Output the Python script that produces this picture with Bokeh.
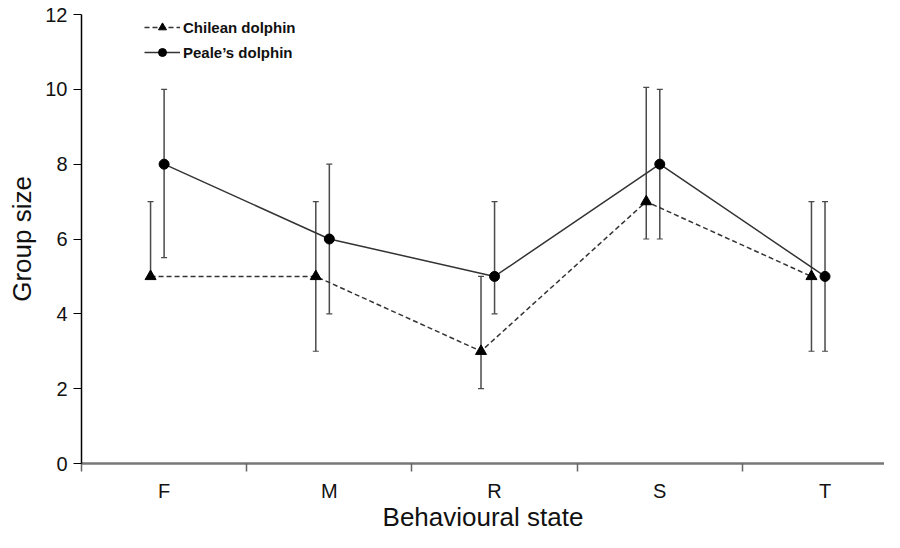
from bokeh.plotting import figure
from bokeh.models import (Range1d, FixedTicker, Whisker, TeeHead, ColumnDataSource,
                          Legend, LegendItem)
from bokeh.embed import file_html
from bokeh.resources import INLINE

# ---- data ----
states = ["F", "M", "R", "S", "T"]
chilean_mean = [5, 5, 3, 7, 5]
chilean_upper = [7, 7, 5, 10.05, 7]
chilean_lower = [5, 3, 2, 6, 3]
peale_mean = [8, 6, 5, 8, 5]
peale_upper = [10, 8, 7, 10, 7]
peale_lower = [5.5, 4, 4, 6, 3]
y_ticks = [0, 2, 4, 6, 8, 10, 12]

chilean_offset = -0.082
peale_offset = 0.0

centers = [i + 0.5 for i in range(len(states))]
boundaries = [float(i) for i in range(len(states))]

src_c = ColumnDataSource(dict(x=[c + chilean_offset for c in centers], y=chilean_mean,
                              upper=chilean_upper, lower=chilean_lower))
src_p = ColumnDataSource(dict(x=[c + peale_offset for c in centers], y=peale_mean,
                              upper=peale_upper, lower=peale_lower))

FONT = "Liberation Sans"
FRAME_W, FRAME_H = 803, 449

p = figure(frame_width=FRAME_W, frame_height=FRAME_H, output_backend="svg",
           toolbar_location=None,
           x_range=Range1d(0, 4.86), y_range=Range1d(0, 12),
           min_border_left=81, min_border_right=0, min_border_top=14, min_border_bottom=68)
p.outline_line_color = None
p.xgrid.visible = False
p.ygrid.visible = False

# error bars
for src in (src_c, src_p):
    w = Whisker(source=src, base="x", upper="upper", lower="lower", dimension="height",
                line_color="#4a4a4a", line_width=1.5, level="underlay",
                upper_head=TeeHead(size=6, line_color="#4a4a4a", line_width=1.2),
                lower_head=TeeHead(size=6, line_color="#4a4a4a", line_width=1.2))
    p.add_layout(w)

cl_line = p.line("x", "y", source=src_c, line_color="#333333", line_width=1.5, line_dash="5 3")
cl_pts = p.scatter("x", "y", source=src_c, marker="triangle", size=11,
                   fill_color="black", line_color="black")
pe_line = p.line("x", "y", source=src_p, line_color="#333333", line_width=1.5)
pe_pts = p.scatter("x", "y", source=src_p, marker="circle", size=10,
                   fill_color="black", line_color="black")

# x axis: ticks at category boundaries, labels at centers
xa = p.xaxis[0]
xa.ticker = FixedTicker(ticks=centers, minor_ticks=boundaries)
xa.major_label_overrides = {c: s for c, s in zip(centers, states)}
xa.major_tick_out = 0
xa.major_tick_in = 0
xa.minor_tick_out = 8
xa.minor_tick_in = 0
xa.minor_tick_line_color = "#666666"
xa.minor_tick_line_width = 1.5
xa.axis_line_color = "#777777"
xa.axis_line_width = 2.5
xa.major_label_standoff = 8
xa.major_label_text_font = FONT
xa.major_label_text_font_size = "20px"
xa.major_label_text_color = "#111111"
xa.axis_label = "Behavioural state"
xa.axis_label_text_font = FONT
xa.axis_label_text_font_size = "26px"
xa.axis_label_text_font_style = "normal"
xa.axis_label_text_color = "#111111"
xa.axis_label_standoff = -3

ya = p.yaxis[0]
ya.ticker = FixedTicker(ticks=y_ticks)
ya.minor_tick_line_color = None
ya.major_tick_out = 8
ya.major_tick_in = 0
ya.major_tick_line_color = "black"
ya.major_tick_line_width = 1.2
ya.axis_line_color = "black"
ya.axis_line_width = 1.5
ya.major_label_standoff = 6
ya.major_label_text_font = FONT
ya.major_label_text_font_size = "20px"
ya.major_label_text_color = "#111111"
ya.axis_label = "Group size"
ya.axis_label_text_font = FONT
ya.axis_label_text_font_size = "26px"
ya.axis_label_text_font_style = "normal"
ya.axis_label_text_color = "#111111"
ya.axis_label_standoff = 5

LEG_H = 2 * 20 + 5
legend = Legend(items=[LegendItem(label="Chilean dolphin", renderers=[cl_line, cl_pts]),
                       LegendItem(label="Peale\u2019s dolphin", renderers=[pe_line, pe_pts])],
                location=(63, FRAME_H - LEG_H - 3), border_line_color=None,
                background_fill_alpha=0,
                label_text_font=FONT, label_text_font_style="bold",
                label_text_font_size="15px", label_text_color="#111111",
                glyph_width=36, glyph_height=20, label_height=20, spacing=5,
                padding=0, margin=0, label_standoff=3)
p.add_layout(legend)

open("out.html", "w").write(file_html(p, INLINE))
